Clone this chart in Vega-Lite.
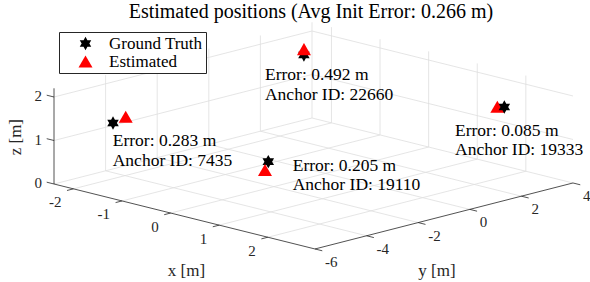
{
  "$schema": "https://vega.github.io/schema/vega-lite/v6.json",
  "width": 590,
  "height": 282,
  "padding": 0,
  "autosize": {"type": "none"},
  "background": "white",
  "config": {
    "view": {"stroke": null},
    "font": "Liberation Serif, serif",
    "text": {"font": "Liberation Serif, serif"},
    "title": {"font": "Liberation Serif, serif", "fontSize": 20, "fontWeight": "normal", "color": "black"},
    "legend": {
      "padding": 3, "strokeColor": "#262626", "fillColor": "white",
      "symbolOffset": 15, "labelOffset": 15, "rowPadding": 0,
      "labelFont": "Liberation Serif, serif", "labelFontSize": 17, "labelColor": "black",
      "symbolSize": 196, "symbolStrokeWidth": 0, "labelLimit": 300
    }
  },
  "title": {"text": "Estimated positions (Avg Init Error: 0.266 m)", "anchor": "middle", "dx": 16, "offset": -38, "baseline": "alphabetic", "font": "Liberation Serif, serif", "fontSize": 20},
  "datasets": {
    "grid": [
      {"x": -2, "y": -6, "z": 0, "x2": -2, "y2": 4, "z2": 0},
      {"x": -1, "y": -6, "z": 0, "x2": -1, "y2": 4, "z2": 0},
      {"x": 0, "y": -6, "z": 0, "x2": 0, "y2": 4, "z2": 0},
      {"x": 1, "y": -6, "z": 0, "x2": 1, "y2": 4, "z2": 0},
      {"x": 2, "y": -6, "z": 0, "x2": 2, "y2": 4, "z2": 0},
      {"x": -2.4, "y": -4, "z": 0, "x2": 2.97, "y2": -4, "z2": 0},
      {"x": -2.4, "y": -2, "z": 0, "x2": 2.97, "y2": -2, "z2": 0},
      {"x": -2.4, "y": 0, "z": 0, "x2": 2.97, "y2": 0, "z2": 0},
      {"x": -2.4, "y": 2, "z": 0, "x2": 2.97, "y2": 2, "z2": 0},
      {"x": -2.4, "y": 4, "z": 0, "x2": 2.97, "y2": 4, "z2": 0},
      {"x": -2.4, "y": -6, "z": 0, "x2": -2.4, "y2": 4, "z2": 0},
      {"x": -2.4, "y": -4, "z": 0, "x2": -2.4, "y2": -4, "z2": 2.2},
      {"x": -2.4, "y": -2, "z": 0, "x2": -2.4, "y2": -2, "z2": 2.2},
      {"x": -2.4, "y": 0, "z": 0, "x2": -2.4, "y2": 0, "z2": 2.2},
      {"x": -2.4, "y": 2, "z": 0, "x2": -2.4, "y2": 2, "z2": 2.2},
      {"x": -2.4, "y": 4, "z": 0, "x2": -2.4, "y2": 4, "z2": 2.2},
      {"x": -2.4, "y": -6, "z": 1, "x2": -2.4, "y2": 4, "z2": 1},
      {"x": -2.4, "y": -6, "z": 2, "x2": -2.4, "y2": 4, "z2": 2},
      {"x": -2, "y": 4, "z": 0, "x2": -2, "y2": 4, "z2": 2.2},
      {"x": -1, "y": 4, "z": 0, "x2": -1, "y2": 4, "z2": 2.2},
      {"x": 0, "y": 4, "z": 0, "x2": 0, "y2": 4, "z2": 2.2},
      {"x": 1, "y": 4, "z": 0, "x2": 1, "y2": 4, "z2": 2.2},
      {"x": 2, "y": 4, "z": 0, "x2": 2, "y2": 4, "z2": 2.2},
      {"x": -2.4, "y": 4, "z": 1, "x2": 2.97, "y2": 4, "z2": 1},
      {"x": -2.4, "y": 4, "z": 2, "x2": 2.97, "y2": 4, "z2": 2}
    ],
    "axes": [
      {"x": -2.4, "y": -6, "z": 0, "x2": 2.97, "y2": -6, "z2": 0},
      {"x": 2.97, "y": -6, "z": 0, "x2": 2.97, "y2": 4, "z2": 0},
      {"x": -2.4, "y": -6, "z": 0, "x2": -2.4, "y2": -6, "z2": 2.2},
      {"x": -2, "y": -6, "z": 0, "x2": -2, "y2": -6.25, "z2": 0},
      {"x": -1, "y": -6, "z": 0, "x2": -1, "y2": -6.25, "z2": 0},
      {"x": 0, "y": -6, "z": 0, "x2": 0, "y2": -6.25, "z2": 0},
      {"x": 1, "y": -6, "z": 0, "x2": 1, "y2": -6.25, "z2": 0},
      {"x": 2, "y": -6, "z": 0, "x2": 2, "y2": -6.25, "z2": 0},
      {"x": 2.97, "y": -6, "z": 0, "x2": 3.12, "y2": -6, "z2": 0},
      {"x": 2.97, "y": -4, "z": 0, "x2": 3.12, "y2": -4, "z2": 0},
      {"x": 2.97, "y": -2, "z": 0, "x2": 3.12, "y2": -2, "z2": 0},
      {"x": 2.97, "y": 0, "z": 0, "x2": 3.12, "y2": 0, "z2": 0},
      {"x": 2.97, "y": 2, "z": 0, "x2": 3.12, "y2": 2, "z2": 0},
      {"x": 2.97, "y": 4, "z": 0, "x2": 3.12, "y2": 4, "z2": 0},
      {"x": -2.4, "y": -6, "z": 0, "x2": -2.55, "y2": -6, "z2": 0},
      {"x": -2.4, "y": -6, "z": 1, "x2": -2.55, "y2": -6, "z2": 1},
      {"x": -2.4, "y": -6, "z": 2, "x2": -2.55, "y2": -6, "z2": 2}
    ],
    "xticks": [
      {"x": -2, "y": -6, "z": 0, "label": "-2"},
      {"x": -1, "y": -6, "z": 0, "label": "-1"},
      {"x": 0, "y": -6, "z": 0, "label": "0"},
      {"x": 1, "y": -6, "z": 0, "label": "1"},
      {"x": 2, "y": -6, "z": 0, "label": "2"}
    ],
    "yticks": [
      {"x": 2.97, "y": -6, "z": 0, "label": "-6"},
      {"x": 2.97, "y": -4, "z": 0, "label": "-4"},
      {"x": 2.97, "y": -2, "z": 0, "label": "-2"},
      {"x": 2.97, "y": 0, "z": 0, "label": "0"},
      {"x": 2.97, "y": 2, "z": 0, "label": "2"},
      {"x": 2.97, "y": 4, "z": 0, "label": "4"}
    ],
    "zticks": [
      {"x": -2.4, "y": -6, "z": 0, "label": "0"},
      {"x": -2.4, "y": -6, "z": 1, "label": "1"},
      {"x": -2.4, "y": -6, "z": 2, "label": "2"}
    ],
    "titles": [
      {"axis": "x", "x": 0.285, "y": -6, "z": 0, "label": "x [m]"},
      {"axis": "y", "x": 2.97, "y": -1, "z": 0, "label": "y [m]"},
      {"axis": "z", "x": -2.4, "y": -6, "z": 1.1, "label": "z [m]"}
    ],
    "points": [
      {"anchor": 7435, "type": "Ground Truth", "x": -1.982, "y": -4.5, "z": 1.291},
      {"anchor": 7435, "type": "Estimated", "x": -1.929, "y": -4.108, "z": 1.391},
      {"anchor": 22660, "type": "Ground Truth", "x": -1.77, "y": 2.5, "z": 1.85},
      {"anchor": 22660, "type": "Estimated", "x": -1.57, "y": 2.125, "z": 2.1},
      {"anchor": 19333, "type": "Ground Truth", "x": 2.2, "y": 2.79, "z": 1.716},
      {"anchor": 19333, "type": "Estimated", "x": 2.056, "y": 2.79, "z": 1.683},
      {"anchor": 19110, "type": "Ground Truth", "x": 0.5, "y": -3.157, "z": 0.888},
      {"anchor": 19110, "type": "Estimated", "x": 0.538, "y": -3.357, "z": 0.738}
    ],
    "notes": [
      {"anchor": 7435, "err": 0.283, "x": -1.988, "y": -4.5, "z": 0.76},
      {"anchor": 22660, "err": 0.492, "x": -1.77, "y": 0.991, "z": 1.505},
      {"anchor": 19333, "err": 0.085, "x": 2.2, "y": 0.878, "z": 1.34},
      {"anchor": 19110, "err": 0.205, "x": 0.5, "y": -2.211, "z": 0.537}
    ]
  },
  "encoding": {
    "x": {"field": "px", "type": "quantitative", "scale": {"domain": [0, 590], "nice": false, "zero": false}, "axis": null},
    "y": {"field": "py", "type": "quantitative", "scale": {"domain": [0, 282], "nice": false, "zero": false, "reverse": true}, "axis": null}
  },
  "layer": [
    {
      "data": {"name": "grid"},
      "transform": [
        {"calculate": "54 + (datum.x + 2.4) * 48.6 + (datum.y + 6) * 25.8", "as": "px"},
        {"calculate": "184 + (datum.x + 2.4) * 12.1 - (datum.y + 6) * 6.6 - datum.z * 43.5", "as": "py"},
        {"calculate": "54 + (datum.x2 + 2.4) * 48.6 + (datum.y2 + 6) * 25.8", "as": "qx"},
        {"calculate": "184 + (datum.x2 + 2.4) * 12.1 - (datum.y2 + 6) * 6.6 - datum.z2 * 43.5", "as": "qy"}
      ],
      "mark": {"type": "rule", "color": "#dedede", "strokeWidth": 0.8},
      "encoding": {"x2": {"field": "qx"}, "y2": {"field": "qy"}}
    },
    {
      "data": {"name": "axes"},
      "transform": [
        {"calculate": "54 + (datum.x + 2.4) * 48.6 + (datum.y + 6) * 25.8", "as": "px"},
        {"calculate": "184 + (datum.x + 2.4) * 12.1 - (datum.y + 6) * 6.6 - datum.z * 43.5", "as": "py"},
        {"calculate": "54 + (datum.x2 + 2.4) * 48.6 + (datum.y2 + 6) * 25.8", "as": "qx"},
        {"calculate": "184 + (datum.x2 + 2.4) * 12.1 - (datum.y2 + 6) * 6.6 - datum.z2 * 43.5", "as": "qy"}
      ],
      "mark": {"type": "rule", "color": "#262626", "strokeWidth": 0.8},
      "encoding": {"x2": {"field": "qx"}, "y2": {"field": "qy"}}
    },
    {
      "data": {"name": "xticks"},
      "transform": [
        {"calculate": "54 + (datum.x + 2.4) * 48.6 + (datum.y + 6) * 25.8", "as": "px"},
        {"calculate": "184 + (datum.x + 2.4) * 12.1 - (datum.y + 6) * 6.6 - datum.z * 43.5", "as": "py"}
      ],
      "mark": {"type": "text", "font": "Liberation Serif, serif", "align": "right", "baseline": "middle", "dx": -12, "dy": 13.5, "fontSize": 15, "color": "#262626"},
      "encoding": {"text": {"field": "label"}}
    },
    {
      "data": {"name": "yticks"},
      "transform": [
        {"calculate": "54 + (datum.x + 2.4) * 48.6 + (datum.y + 6) * 25.8", "as": "px"},
        {"calculate": "184 + (datum.x + 2.4) * 12.1 - (datum.y + 6) * 6.6 - datum.z * 43.5", "as": "py"}
      ],
      "mark": {"type": "text", "font": "Liberation Serif, serif", "align": "left", "baseline": "middle", "dx": 10, "dy": 13, "fontSize": 15, "color": "#262626"},
      "encoding": {"text": {"field": "label"}}
    },
    {
      "data": {"name": "zticks"},
      "transform": [
        {"calculate": "54 + (datum.x + 2.4) * 48.6 + (datum.y + 6) * 25.8", "as": "px"},
        {"calculate": "184 + (datum.x + 2.4) * 12.1 - (datum.y + 6) * 6.6 - datum.z * 43.5", "as": "py"}
      ],
      "mark": {"type": "text", "font": "Liberation Serif, serif", "align": "right", "baseline": "middle", "dx": -12, "dy": -1, "fontSize": 15, "color": "#262626"},
      "encoding": {"text": {"field": "label"}}
    },
    {
      "data": {"name": "titles"},
      "transform": [
        {"filter": "datum.axis === 'x'"},
        {"calculate": "54 + (datum.x + 2.4) * 48.6 + (datum.y + 6) * 25.8", "as": "px"},
        {"calculate": "184 + (datum.x + 2.4) * 12.1 - (datum.y + 6) * 6.6 - datum.z * 43.5", "as": "py"}
      ],
      "mark": {"type": "text", "font": "Liberation Serif, serif", "align": "center", "baseline": "middle", "dx": 2, "dy": 55, "fontSize": 17, "color": "#262626"},
      "encoding": {"text": {"field": "label"}}
    },
    {
      "data": {"name": "titles"},
      "transform": [
        {"filter": "datum.axis === 'y'"},
        {"calculate": "54 + (datum.x + 2.4) * 48.6 + (datum.y + 6) * 25.8", "as": "px"},
        {"calculate": "184 + (datum.x + 2.4) * 12.1 - (datum.y + 6) * 6.6 - datum.z * 43.5", "as": "py"}
      ],
      "mark": {"type": "text", "font": "Liberation Serif, serif", "align": "center", "baseline": "middle", "dx": -7, "dy": 55.5, "fontSize": 17, "color": "#262626"},
      "encoding": {"text": {"field": "label"}}
    },
    {
      "data": {"name": "titles"},
      "transform": [
        {"filter": "datum.axis === 'z'"},
        {"calculate": "54 + (datum.x + 2.4) * 48.6 + (datum.y + 6) * 25.8", "as": "px"},
        {"calculate": "184 + (datum.x + 2.4) * 12.1 - (datum.y + 6) * 6.6 - datum.z * 43.5", "as": "py"}
      ],
      "mark": {"type": "text", "font": "Liberation Serif, serif", "align": "center", "baseline": "middle", "angle": 270, "dx": -1, "dy": -38, "fontSize": 17, "color": "#262626"},
      "encoding": {"text": {"field": "label"}}
    },
    {
      "data": {"name": "points"},
      "transform": [
        {"calculate": "54 + (datum.x + 2.4) * 48.6 + (datum.y + 6) * 25.8", "as": "px"},
        {"calculate": "184 + (datum.x + 2.4) * 12.1 - (datum.y + 6) * 6.6 - datum.z * 43.5", "as": "py"},
        {"calculate": "datum.x - 0.545 * datum.y + 0.244 * datum.z", "as": "depth"}
      ],
      "mark": {"type": "point", "filled": true, "opacity": 1, "size": 196},
      "encoding": {
        "color": {"field": "type", "type": "nominal", "scale": {"domain": ["Ground Truth", "Estimated"], "range": ["black", "red"]}, "legend": {"title": null, "orient": "none", "legendX": 59, "legendY": 32}},
        "shape": {"field": "type", "type": "nominal", "scale": {"domain": ["Ground Truth", "Estimated"], "range": ["M0,-0.95L0.274,-0.475L0.823,-0.475L0.5485,0L0.823,0.475L0.274,0.475L0,0.95L-0.274,0.475L-0.823,0.475L-0.5485,0L-0.823,-0.475L-0.274,-0.475Z", "triangle-up"]}, "legend": {"title": null, "orient": "none", "legendX": 59, "legendY": 32}},
        "order": {"field": "depth", "type": "quantitative"}
      }
    },
    {
      "data": {"name": "notes"},
      "transform": [
        {"calculate": "54 + (datum.x + 2.4) * 48.6 + (datum.y + 6) * 25.8", "as": "px"},
        {"calculate": "184 + (datum.x + 2.4) * 12.1 - (datum.y + 6) * 6.6 - datum.z * 43.5", "as": "py"},
        {"calculate": "'Error: ' + format(datum.err, '.3f') + ' m\\nAnchor ID: ' + datum.anchor", "as": "note"}
      ],
      "mark": {"type": "text", "font": "Liberation Serif, serif", "align": "left", "baseline": "alphabetic", "lineBreak": "\n", "lineHeight": 19.5, "fontSize": 17.5, "color": "black"},
      "encoding": {"text": {"field": "note"}}
    }
  ]
}
